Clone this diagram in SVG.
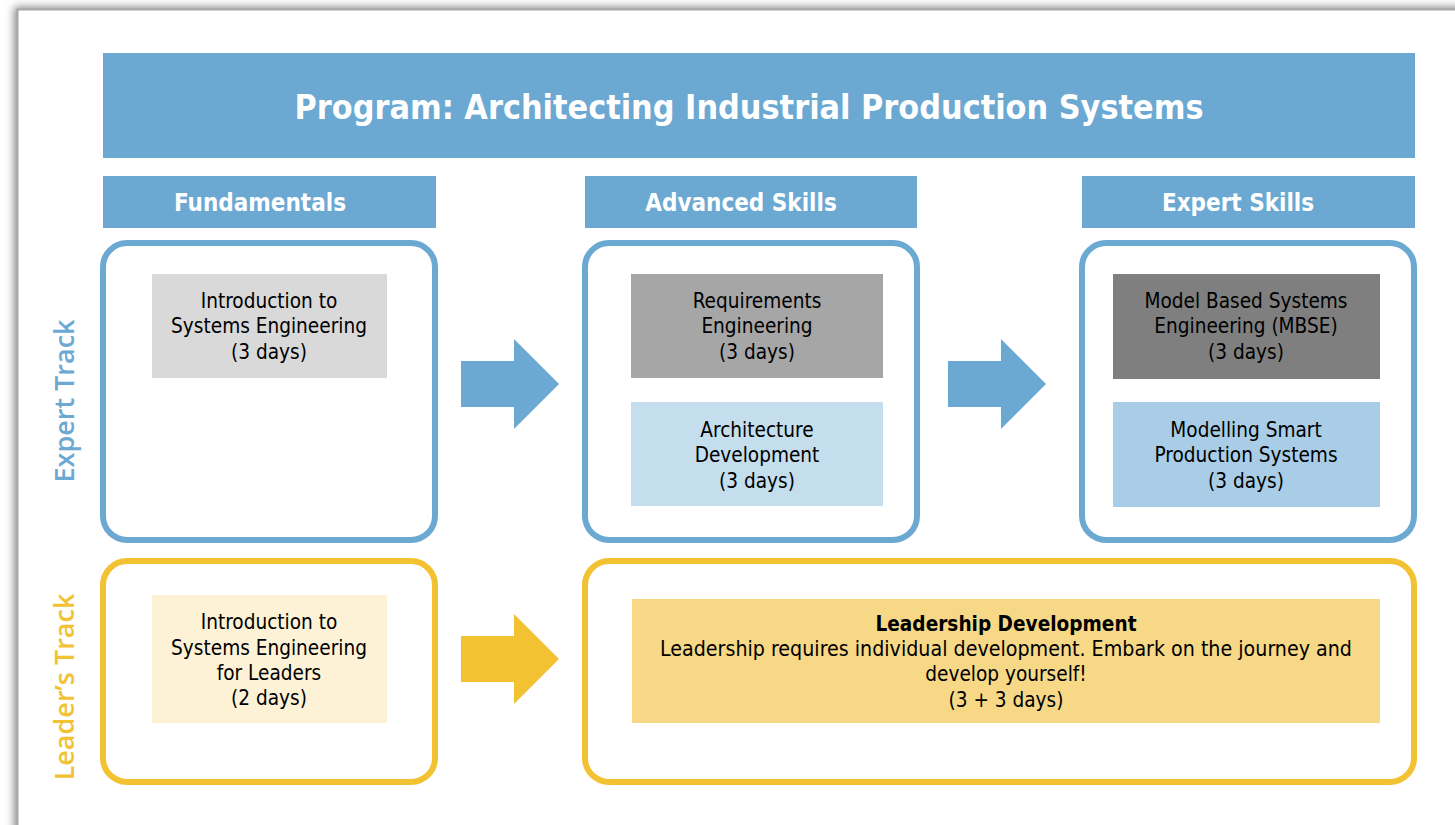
<svg xmlns="http://www.w3.org/2000/svg" width="1455" height="825" viewBox="0 0 1455 825">
<defs>
<filter id="sh" x="-5%" y="-5%" width="110%" height="110%"><feGaussianBlur stdDeviation="4"/></filter>
<style>
text{font-family:'DejaVu Sans Condensed','DejaVu Sans',sans-serif;font-stretch:condensed;text-anchor:middle}
.hdr{fill:#6ba9d3}
.ht{fill:#fff;font-weight:bold;font-size:24px}
.cb{fill:#fff;stroke:#6ba9d3;stroke-width:6}
.cy{fill:#fff;stroke:#f2c233;stroke-width:6}
.bt{fill:#000;font-size:20.6px}
.side{font-family:'Open Sans','Noto Sans',sans-serif;font-stretch:normal;font-size:27px;font-weight:600}
</style>
</defs>
<rect width="1455" height="825" fill="#fff"/>
<g id="frame">
<rect x="14" y="7" width="1500" height="900" fill="#888" filter="url(#sh)"/>
<rect x="17.5" y="9.5" width="1500" height="900" fill="#fff" stroke="#a8a8a8" stroke-width="2"/>
</g>
<g id="title"><rect class="hdr" x="103" y="53" width="1312" height="105"/>
<text x="749" y="119" fill="#fff" font-weight="bold" font-size="34" textLength="909" lengthAdjust="spacingAndGlyphs">Program: Architecting Industrial Production Systems</text></g>
<g id="h-fund"><rect class="hdr" x="103" y="176" width="333" height="52"/><text class="ht" x="260" y="211">Fundamentals</text></g>
<g id="h-adv"><rect class="hdr" x="585" y="176" width="332" height="52"/><text class="ht" x="741" y="211">Advanced Skills</text></g>
<g id="h-exp"><rect class="hdr" x="1082" y="176" width="333" height="52"/><text class="ht" x="1238" y="211">Expert Skills</text></g>
<g id="lbl-expert"><text class="side" transform="translate(74,401) rotate(-90)" fill="#6ba9d3">Expert Track</text></g>
<g id="lbl-leader"><text class="side" transform="translate(74,687) rotate(-90)" fill="#f2c233">Leader’s Track</text></g>
<g id="c-fund"><rect class="cb" x="103" y="243" width="332" height="297" rx="24"/></g>
<g id="c-adv"><rect class="cb" x="585" y="243" width="332" height="297" rx="24"/></g>
<g id="c-exp"><rect class="cb" x="1082" y="243" width="332" height="297" rx="24"/></g>
<g id="c-lfund"><rect class="cy" x="103" y="561" width="332" height="221" rx="24"/></g>
<g id="c-lead"><rect class="cy" x="585" y="561" width="829" height="221" rx="24"/></g>
<g id="n-intro"><rect x="152" y="274" width="235" height="104" fill="#d9d9d9"/>
<text class="bt" x="269" y="308">Introduction to</text><text class="bt" x="269" y="333">Systems Engineering</text><text class="bt" x="269" y="359">(3 days)</text></g>
<g id="n-req"><rect x="631" y="274" width="252" height="104" fill="#a6a6a6"/>
<text class="bt" x="757" y="308">Requirements</text><text class="bt" x="757" y="333">Engineering</text><text class="bt" x="757" y="359">(3 days)</text></g>
<g id="n-arch"><rect x="631" y="402" width="252" height="104" fill="#c4deee"/>
<text class="bt" x="757" y="437">Architecture</text><text class="bt" x="757" y="462">Development</text><text class="bt" x="757" y="488">(3 days)</text></g>
<g id="n-mbse"><rect x="1113" y="274" width="267" height="105" fill="#7f7f7f"/>
<text class="bt" x="1246" y="308">Model Based Systems</text><text class="bt" x="1246" y="333">Engineering (MBSE)</text><text class="bt" x="1246" y="359">(3 days)</text></g>
<g id="n-msps"><rect x="1113" y="402" width="267" height="105" fill="#a9cde6"/>
<text class="bt" x="1246" y="437">Modelling Smart</text><text class="bt" x="1246" y="462">Production Systems</text><text class="bt" x="1246" y="488">(3 days)</text></g>
<g id="n-introlead"><rect x="152" y="595" width="235" height="128" fill="#fdf2d6"/>
<text class="bt" x="269" y="629">Introduction to</text><text class="bt" x="269" y="655">Systems Engineering</text><text class="bt" x="269" y="680">for Leaders</text><text class="bt" x="269" y="705">(2 days)</text></g>
<g id="n-leaddev"><rect x="632" y="599" width="748" height="124" fill="#f7d886"/>
<text class="bt" x="1006" y="631" font-weight="bold">Leadership Development</text>
<text class="bt" x="1006" y="656" textLength="692" lengthAdjust="spacingAndGlyphs">Leadership requires individual development. Embark on the journey and</text>
<text class="bt" x="1006" y="681">develop yourself!</text><text class="bt" x="1006" y="707">(3 + 3 days)</text></g>
<g id="connectors">
<polygon points="461,361 514,361 514,339 559,384 514,429 514,407 461,407" fill="#6ba9d3"/>
<polygon points="948,361 1001,361 1001,339 1046,384 1001,429 1001,407 948,407" fill="#6ba9d3"/>
<polygon points="461,636 514,636 514,614 559,659 514,704 514,682 461,682" fill="#f2c233"/>
</g>
</svg>
